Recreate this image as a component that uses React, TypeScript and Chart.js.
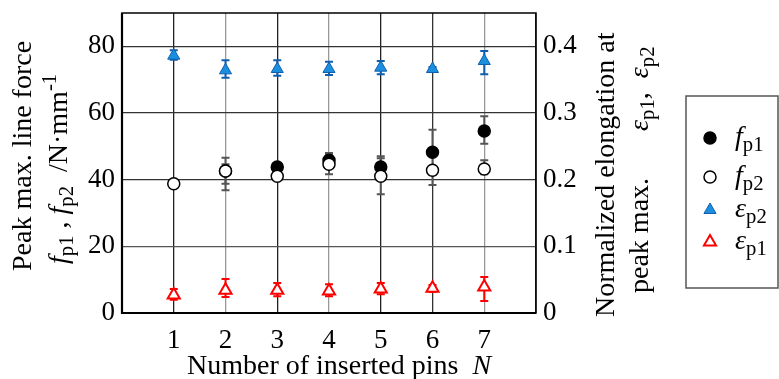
import React, { useEffect, useRef } from 'react';
import { Chart, registerables } from 'chart.js';

Chart.register(...registerables);

// ---- data ----
const pins = [1, 2, 3, 4, 5, 6, 7];
const fp1 = [null, 42.6, 43.8, 45.8, 43.8, 48.2, 54.6];
const fp1Hi = [null, 44.6, 44.8, 48.0, 47.0, 55.0, 59.0];
const fp1Lo = [null, 38.8, 42.8, 43.6, 40.6, 41.4, 50.8];
const fp2 = [38.8, 42.6, 41.0, 44.6, 41.0, 42.8, 43.2];
const fp2Hi = [39.4, 46.6, 41.8, 47.6, 46.4, 43.8, 45.8];
const fp2Lo = [38.2, 36.8, 40.2, 41.6, 35.6, 38.4, 41.6];
const ep2 = [0.386, 0.364, 0.366, 0.366, 0.368, 0.366, 0.378];
const ep2Hi = [0.394, 0.379, 0.379, 0.377, 0.378, 0.369, 0.393];
const ep2Lo = [0.380, 0.353, 0.356, 0.357, 0.358, 0.363, 0.358];
const ep1 = [0.027, 0.034, 0.034, 0.033, 0.036, 0.037, 0.039];
const ep1Hi = [0.036, 0.051, 0.045, 0.043, 0.045, 0.042, 0.054];
const ep1Lo = [0.020, 0.024, 0.025, 0.025, 0.028, 0.032, 0.018];
const leftTickLabels = [0, 20, 40, 60, 80];
const rightTickLabels = [0, 0.1, 0.2, 0.3, 0.4];
const xTickLabels = [1, 2, 3, 4, 5, 6, 7];

const SERIF = "'Liberation Serif', 'Times New Roman', serif";
const BLUE = '#1c8ee0';
const BLUE_DARK = '#0f5fae';
const RED = '#ff0000';
const GRAY_ERR = '#555555';
const TICK_SIZE = 27;
const TITLE_SIZE = 28;

type Seg = { t: string; it?: boolean; sub?: boolean; sup?: boolean };

function drawRich(ctx: CanvasRenderingContext2D, segs: Seg[], x: number, y: number, size: number) {
  let cx = x;
  ctx.textBaseline = 'alphabetic';
  ctx.textAlign = 'left';
  ctx.fillStyle = '#000';
  for (const s of segs) {
    const sz = s.sub || s.sup ? size * 0.74 : size;
    ctx.font = `${s.it ? 'italic ' : ''}${sz}px ${SERIF}`;
    let yy = y;
    if (s.sub) yy = y + size * 0.22;
    if (s.sup) yy = y - size * 0.38;
    ctx.fillText(s.t, cx, yy);
    cx += ctx.measureText(s.t).width;
  }
}

function drawRotated(ctx: CanvasRenderingContext2D, segs: Seg[], bx: number, by: number, size: number) {
  ctx.save();
  ctx.translate(bx, by);
  ctx.rotate(-Math.PI / 2);
  drawRich(ctx, segs, 0, 0, size);
  ctx.restore();
}

function pts(vals: (number | null)[]) {
  return pins.map((n, i) => ({ x: n, y: vals[i] }));
}

function gridColorY(v: number) {
  const m: Record<number, string> = { 10: '#333', 20: '#555', 30: '#999', 40: '#333', 50: '#111', 60: '#333', 70: '#555', 80: '#333' };
  return m[v] || '#333';
}
function gridColorX(v: number) {
  const m: Record<number, string> = { 1: '#222', 2: '#999', 3: '#222', 4: '#999', 5: '#222', 6: '#333', 7: '#999' };
  return m[v] || '#333';
}

const errorPlugin = {
  id: 'errbars',
  beforeDatasetsDraw(chart: any) {
    const ctx = chart.ctx as CanvasRenderingContext2D;
    const xs = chart.scales.x;
    chart.data.datasets.forEach((ds: any) => {
      if (!ds.errHi) return;
      const ys = chart.scales[ds.yAxisID];
      ctx.save();
      ctx.strokeStyle = ds.errColor;
      ctx.lineWidth = 2;
      ds.data.forEach((p: any, i: number) => {
        if (p.y == null || ds.errHi[i] == null) return;
        const px = xs.getPixelForValue(p.x);
        const yh = ys.getPixelForValue(ds.errHi[i]);
        const yl = ys.getPixelForValue(ds.errLo[i]);
        ctx.beginPath();
        ctx.moveTo(px, yh);
        ctx.lineTo(px, yl);
        ctx.moveTo(px - 4, yh);
        ctx.lineTo(px + 4, yh);
        ctx.moveTo(px - 4, yl);
        ctx.lineTo(px + 4, yl);
        ctx.stroke();
      });
      ctx.restore();
    });
    // plot frame
    const a = chart.chartArea;
    ctx.save();
    ctx.strokeStyle = '#000';
    ctx.lineWidth = 1.5;
    ctx.strokeRect(a.left, a.top, a.right - a.left, a.bottom - a.top);
    ctx.lineWidth = 2.2;
    ctx.beginPath();
    ctx.moveTo(a.left, a.top);
    ctx.lineTo(a.left, a.bottom);
    ctx.lineTo(a.right, a.bottom);
    ctx.stroke();
    ctx.restore();
  },
  afterDraw(chart: any) {
    const ctx = chart.ctx as CanvasRenderingContext2D;
    const S = TITLE_SIZE;
    // left axis title
    drawRotated(ctx, [{ t: 'Peak max. line force' }], 31, 271, S);
    drawRotated(ctx, [
      { t: 'f', it: true }, { t: 'p1', sub: true }, { t: ' , ' },
      { t: 'f', it: true }, { t: 'p2', sub: true }, { t: '  /N·mm' }, { t: '-1', sup: true },
    ], 67, 264, S);
    // right axis title
    drawRotated(ctx, [{ t: 'Normalized elongation at' }], 614, 317, S);
    drawRotated(ctx, [{ t: 'peak max.' }], 648, 293, S);
    drawRotated(ctx, [
      { t: 'ε', it: true }, { t: 'p1', sub: true }, { t: ',  ' },
      { t: 'ε', it: true }, { t: 'p2', sub: true },
    ], 648, 131, S);
    // x axis title
    drawRich(ctx, [{ t: 'Number of inserted pins  ' }, { t: 'N', it: true }], 187, 374, S);

    // legend
    ctx.save();
    ctx.strokeStyle = '#555';
    ctx.lineWidth = 1.5;
    ctx.strokeRect(686, 96, 92, 192);
    ctx.restore();
    const rows = [
      { y: 138, style: 'dot', lab: [{ t: 'f', it: true }, { t: 'p1', sub: true }] },
      { y: 177, style: 'ring', lab: [{ t: 'f', it: true }, { t: 'p2', sub: true }] },
      { y: 210, style: 'tblue', lab: [{ t: 'ε', it: true }, { t: 'p2', sub: true }] },
      { y: 242, style: 'tred', lab: [{ t: 'ε', it: true }, { t: 'p1', sub: true }] },
    ];
    rows.forEach((r) => {
      const mx = 710;
      ctx.save();
      if (r.style === 'dot' || r.style === 'ring') {
        ctx.beginPath();
        ctx.arc(mx, r.y, 6, 0, Math.PI * 2);
        ctx.fillStyle = r.style === 'dot' ? '#000' : '#fff';
        ctx.fill();
        ctx.lineWidth = 1.5;
        ctx.strokeStyle = '#000';
        ctx.stroke();
      } else {
        const rad = 7;
        ctx.beginPath();
        ctx.moveTo(mx, r.y - rad);
        ctx.lineTo(mx + rad * 0.866, r.y + rad * 0.5);
        ctx.lineTo(mx - rad * 0.866, r.y + rad * 0.5);
        ctx.closePath();
        ctx.fillStyle = r.style === 'tblue' ? BLUE : '#fff';
        ctx.fill();
        ctx.lineWidth = r.style === 'tblue' ? 1 : 2;
        ctx.strokeStyle = r.style === 'tblue' ? BLUE_DARK : RED;
        ctx.stroke();
      }
      ctx.restore();
      drawRich(ctx, r.lab as Seg[], 735, r.y + 7, S);
    });
  },
};

export default function App() {
  const ref = useRef<HTMLCanvasElement | null>(null);
  useEffect(() => {
    if (!ref.current) return;
    const zeroPadY = (s: any, w: number) => { s.width = w; s.paddingTop = 0; s.paddingBottom = 0; };
    const chart = new Chart(ref.current, {
      type: 'scatter',
      data: {
        datasets: [
          {
            label: 'fp2', data: pts(fp2), yAxisID: 'y', order: 0,
            pointStyle: 'circle', pointRadius: 6, pointBackgroundColor: '#fff', pointBorderColor: '#000', pointBorderWidth: 1.5,
            errHi: fp2Hi, errLo: fp2Lo, errColor: GRAY_ERR,
          } as any,
          {
            label: 'fp1', data: pts(fp1), yAxisID: 'y', order: 1,
            pointStyle: 'circle', pointRadius: 6, pointBackgroundColor: '#000', pointBorderColor: '#000', pointBorderWidth: 1.5,
            errHi: fp1Hi, errLo: fp1Lo, errColor: GRAY_ERR,
          } as any,
          {
            label: 'ep2', data: pts(ep2), yAxisID: 'y2', order: 2,
            pointStyle: 'triangle', pointRadius: 7, pointBackgroundColor: BLUE, pointBorderColor: BLUE_DARK, pointBorderWidth: 1,
            errHi: ep2Hi, errLo: ep2Lo, errColor: BLUE_DARK,
          } as any,
          {
            label: 'ep1', data: pts(ep1), yAxisID: 'y2', order: 3,
            pointStyle: 'triangle', pointRadius: 7, pointBackgroundColor: '#fff', pointBorderColor: RED, pointBorderWidth: 2,
            errHi: ep1Hi, errLo: ep1Lo, errColor: RED,
          } as any,
        ],
      },
      options: {
        animation: false,
        responsive: true,
        maintainAspectRatio: false,
        layout: { padding: { top: 13, left: 0, right: 0, bottom: 0 } },
        plugins: { legend: { display: false }, tooltip: { enabled: false } },
        scales: {
          x: {
            type: 'linear', min: 0, max: 8,
            afterFit: (s: any) => { s.height = 66; s.paddingLeft = 0; s.paddingRight = 0; },
            ticks: {
              stepSize: 1, padding: 12, color: '#000', font: { family: SERIF, size: TICK_SIZE },
              callback: (v: any) => (xTickLabels.includes(Number(v)) ? String(v) : ''),
            },
            grid: { drawTicks: false, lineWidth: 1.3, color: (c: any) => gridColorX(c.tick?.value) },
            border: { display: false },
          },
          y: {
            type: 'linear', position: 'left', min: 0, max: 90,
            afterFit: (s: any) => zeroPadY(s, 122),
            ticks: {
              stepSize: 10, padding: 7, color: '#000', font: { family: SERIF, size: TICK_SIZE },
              callback: (v: any) => (leftTickLabels.includes(Number(v)) ? String(v) : ''),
            },
            grid: { drawTicks: false, lineWidth: 1.3, color: (c: any) => gridColorY(c.tick?.value) },
            border: { display: false },
          },
          y2: {
            type: 'linear', position: 'right', min: 0, max: 0.45,
            afterFit: (s: any) => zeroPadY(s, 243),
            ticks: {
              stepSize: 0.05, padding: 7, color: '#000', font: { family: SERIF, size: TICK_SIZE },
              callback: (v: any) => {
                const n = Number(v);
                const hit = rightTickLabels.find((t) => Math.abs(t - n) < 1e-6);
                if (hit === undefined) return '';
                return hit === 0 ? '0' : hit.toFixed(1);
              },
            },
            grid: { display: false, drawTicks: false },
            border: { display: false },
          },
        },
      },
      plugins: [errorPlugin],
    } as any);
    return () => chart.destroy();
  }, []);
  return (
    <div style={{ position: 'fixed', left: 0, top: 0, width: 779, height: 379, background: '#fff' }}>
      <canvas ref={ref} />
    </div>
  );
}
